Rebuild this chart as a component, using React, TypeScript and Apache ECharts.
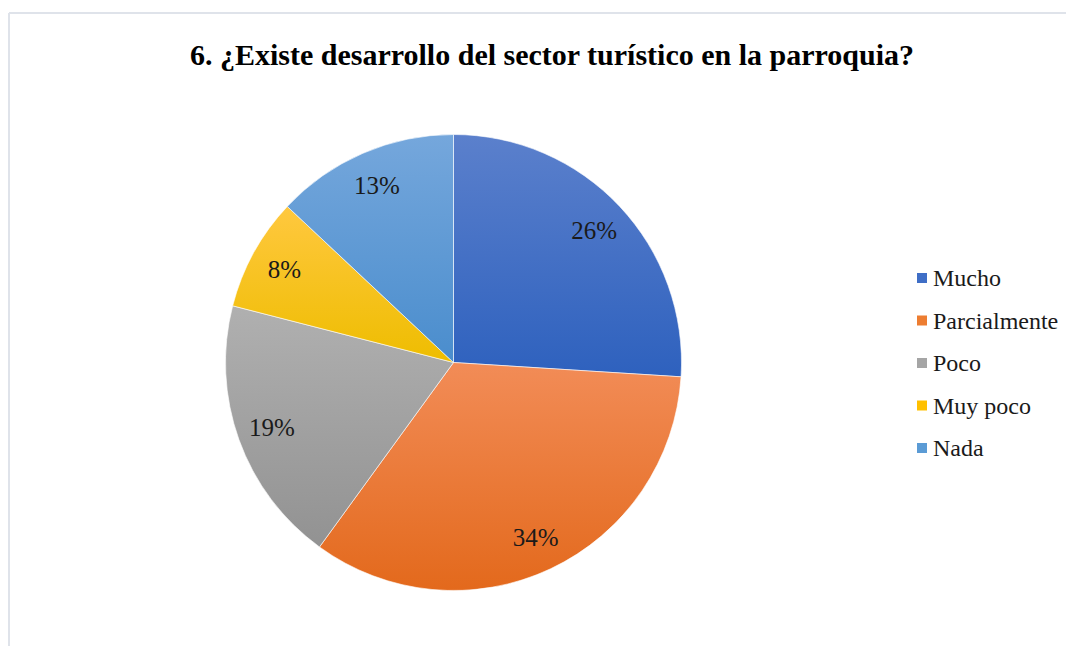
import React, { useEffect, useRef } from "react";
import * as echarts from "echarts";

const title = "6. ¿Existe desarrollo del sector turístico en la parroquia?";
const categories = ["Mucho", "Parcialmente", "Poco", "Muy poco", "Nada"];
const values = [26, 34, 19, 8, 13];
const topColors = ["#5b80cc", "#f28c57", "#b0b0b0", "#ffc83f", "#75a7dc"];
const bottomColors = ["#2e61be", "#e3691c", "#929292", "#eebd00", "#4a8dcd"];
const legendColors = ["#3f6ec6", "#ed7d31", "#a5a5a5", "#ffc000", "#5b9bd5"];

const FONT = "Liberation Serif";

export default function App() {
  const ref = useRef<HTMLDivElement>(null);
  useEffect(() => {
    if (!ref.current) return;
    const chart = echarts.init(ref.current, null, { renderer: "svg" });
    const grad = (i: number) =>
      new echarts.graphic.LinearGradient(0, 0, 0, 1, [
        { offset: 0, color: topColors[i] },
        { offset: 1, color: bottomColors[i] },
      ]);
    chart.setOption({
      animation: false,
      backgroundColor: "#ffffff",
      title: {
        text: title,
        left: 547,
        textAlign: "center",
        top: 34,
        textStyle: { fontFamily: FONT, fontSize: 30, fontWeight: "bold", color: "#000" },
      },
      legend: {
        orient: "vertical",
        left: 910,
        top: 261,
        itemWidth: 12,
        itemHeight: 12,
        itemGap: 18.5,
        icon: "rect",
        data: categories.map((n, i) => ({ name: n, itemStyle: { color: legendColors[i] } })),
        textStyle: { fontFamily: FONT, fontSize: 24, color: "#1a1a1a", lineHeight: 24 },
      },
      graphic: [
        { type: "line", shape: { x1: 9, y1: 13, x2: 1066, y2: 13 }, style: { stroke: "#dfe3ea", lineWidth: 2 } },
        { type: "line", shape: { x1: 9, y1: 13, x2: 9, y2: 646 }, style: { stroke: "#dfe3ea", lineWidth: 2 } },
      ],
      series: [
        {
          type: "pie",
          center: [453.5, 362.5],
          radius: 228,
          startAngle: 90,
          clockwise: true,
          label: { show: false },
          labelLine: { show: false },
          emphasis: { disabled: true },
          itemStyle: { borderColor: "#ffffff", borderWidth: 0.6 },
          data: categories.map((n, i) => ({ name: n, value: values[i], itemStyle: { color: grad(i) } })),
        },
        {
          type: "pie",
          center: [453.5, 362.5],
          radius: 380,
          startAngle: 90,
          clockwise: true,
          silent: true,
          legendHoverLink: false,
          itemStyle: { color: "transparent" },
          emphasis: { disabled: true },
          label: {
            show: true,
            position: "inside",
            formatter: "{c}%",
            fontFamily: FONT,
            fontSize: 25,
            color: "#1a1a1a",
          },
          labelLine: { show: false },
          data: categories.map((n, i) => ({ name: n, value: values[i] })),
        },
      ],
    });
    return () => chart.dispose();
  }, []);
  return (
    <div
      ref={ref}
      style={{ position: "fixed", left: 0, top: 0, width: 1066, height: 646, background: "#fff" }}
    />
  );
}
